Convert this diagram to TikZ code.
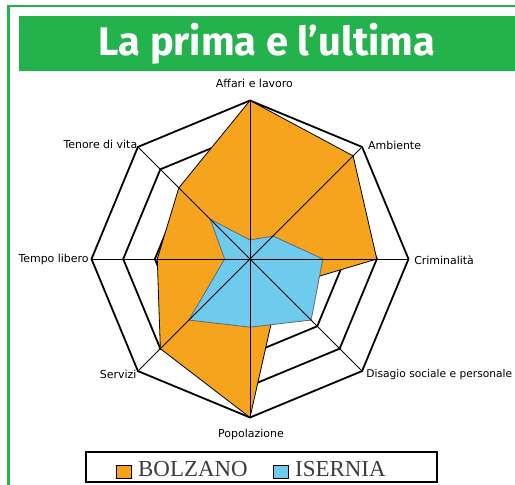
\documentclass[tikz,border=0pt]{standalone}
\usepackage{fontspec}
\setmainfont{DejaVu Sans}
\newfontfamily\titlefont{Fira Sans}
\newfontfamily\legendfont{Liberation Serif}
\usetikzlibrary{backgrounds}
\pgfdeclarelayer{edgelayer}
\pgfdeclarelayer{nodelayer}
\pgfsetlayers{edgelayer,nodelayer,main}
\definecolor{bandgreen}{RGB}{36,178,76}
\definecolor{bzorange}{RGB}{246,163,30}
\definecolor{isblue}{RGB}{111,203,238}
\definecolor{isedge}{RGB}{95,105,115}
\definecolor{legendgray}{RGB}{60,60,60}
\tikzset{font=\fontsize{11}{13}\selectfont}
\tikzstyle{none}=[inner sep=0pt]
\tikzstyle{axislabel}=[inner sep=0pt]
\tikzstyle{ring}=[line width=1.8bp, black, line join=miter]
\tikzstyle{spoke}=[line width=1pt, black]
\tikzstyle{swatch}=[draw=black, line width=0.6pt, minimum width=15bp, minimum height=13bp, inner sep=0pt]
\tikzstyle{legendtext}=[inner sep=0pt, anchor=base west, text=legendgray, font=\legendfont\fontsize{23}{26}\selectfont]

\begin{document}
\begin{tikzpicture}[x=158.5bp, y=158.5bp]
	\useasboundingbox (-1.5773,-1.4196) rectangle (1.6719,1.6341);
	\begin{pgfonlayer}{nodelayer}
		\node [style=none] (c) at (0, 0) {};
		\node [style=none] (0) at (90:1) {};
		\node [style=none] (1) at (45:1) {};
		\node [style=none] (2) at (0:1) {};
		\node [style=none] (3) at (-45:1) {};
		\node [style=none] (4) at (-90:1) {};
		\node [style=none] (5) at (-135:1) {};
		\node [style=none] (6) at (180:1) {};
		\node [style=none] (7) at (135:1) {};
		\node [style=axislabel] (8) at (0.028, 1.110) {Affari e lavoro};
		\node [style=axislabel, anchor=west] (9) at (0.744, 0.719) {Ambiente};
		\node [style=axislabel, anchor=west] (10) at (1.035, -0.006) {Criminalità};
		\node [style=axislabel, anchor=west, font=\fontsize{10.7}{13}\selectfont] (11) at (0.733, -0.732) {Disagio sociale e personale};
		\node [style=axislabel] (12) at (0.006, -1.104) {Popolazione};
		\node [style=axislabel, anchor=east] (13) at (-0.715, -0.726) {Servizi};
		\node [style=axislabel, anchor=west] (14) at (-1.4618, -0.006) {Tempo libero};
		\node [style=axislabel, anchor=west] (15) at (-1.1779, 0.7237) {Tenore di vita};
		\node [style=swatch, fill=bzorange] (16) at (-0.7981, -1.3407) {};
		\node [style=legendtext] (17) at (-0.7066, -1.3691) {BOLZANO};
		\node [style=swatch, fill=isblue] (18) at (0.1924, -1.3407) {};
		\node [style=legendtext] (19) at (0.2839, -1.3691) {ISERNIA};
	\end{pgfonlayer}
	\begin{pgfonlayer}{edgelayer}
		% frame and title band
		\draw[bandgreen, line width=2.5bp] (-1.5224, 1.5962) rectangle (1.9, -1.8);
		\fill[bandgreen] (-1.4574, 1.5331) rectangle (1.8, 1.1880);
		\node [text=white, inner sep=0pt, anchor=base, font=\titlefont\bfseries\fontsize{40}{46}\selectfont] (title) at (0.107, 1.281) {La prima e l’ultima};
		% rings
		\draw[style=ring] (90:1) -- (45:1) -- (0:1) -- (-45:1) -- (-90:1) -- (-135:1) -- (180:1) -- (135:1) -- cycle;
		\draw[style=ring] (90:0.8) -- (45:0.8) -- (0:0.8) -- (-45:0.8) -- (-90:0.8) -- (-135:0.8) -- (180:0.8) -- (135:0.8) -- cycle;
		\draw[style=ring] (90:0.6) -- (45:0.6) -- (0:0.6) -- (-45:0.6) -- (-90:0.6) -- (-135:0.6) -- (180:0.6) -- (135:0.6) -- cycle;
		\draw[style=ring] (90:0.4) -- (45:0.4) -- (0:0.4) -- (-45:0.4) -- (-90:0.4) -- (-135:0.4) -- (180:0.4) -- (135:0.4) -- cycle;
		\draw[style=ring] (90:0.2) -- (45:0.2) -- (0:0.2) -- (-45:0.2) -- (-90:0.2) -- (-135:0.2) -- (180:0.2) -- (135:0.2) -- cycle;
		% Bolzano
		\filldraw[fill=bzorange, draw=black, line width=0.8pt, line join=miter] (90:1) -- (45:0.92) -- (0:0.8) -- (-45:0.26) -- (-90:1) -- (-135:0.8) -- (180:0.585) -- (135:0.635) -- cycle;
		% Isernia
		\filldraw[fill=isblue, draw=isedge, line width=0.8pt] (90:0.12) -- (45:0.205) -- (0:0.46) -- (-45:0.545) -- (-90:0.43) -- (-135:0.545) -- (180:0.16) -- (135:0.355) -- cycle;
		% spokes
		\draw[style=spoke] (c.center) to (0.center);
		\draw[style=spoke] (c.center) to (1.center);
		\draw[style=spoke] (c.center) to (2.center);
		\draw[style=spoke] (c.center) to (3.center);
		\draw[style=spoke] (c.center) to (4.center);
		\draw[style=spoke] (c.center) to (5.center);
		\draw[style=spoke] (c.center) to (6.center);
		\draw[style=spoke] (c.center) to (7.center);
		% legend
		\draw[black, line width=2bp] (-1.0360, -1.2177) rectangle (1.1798, -1.409);
	\end{pgfonlayer}
\end{tikzpicture}
\end{document}
